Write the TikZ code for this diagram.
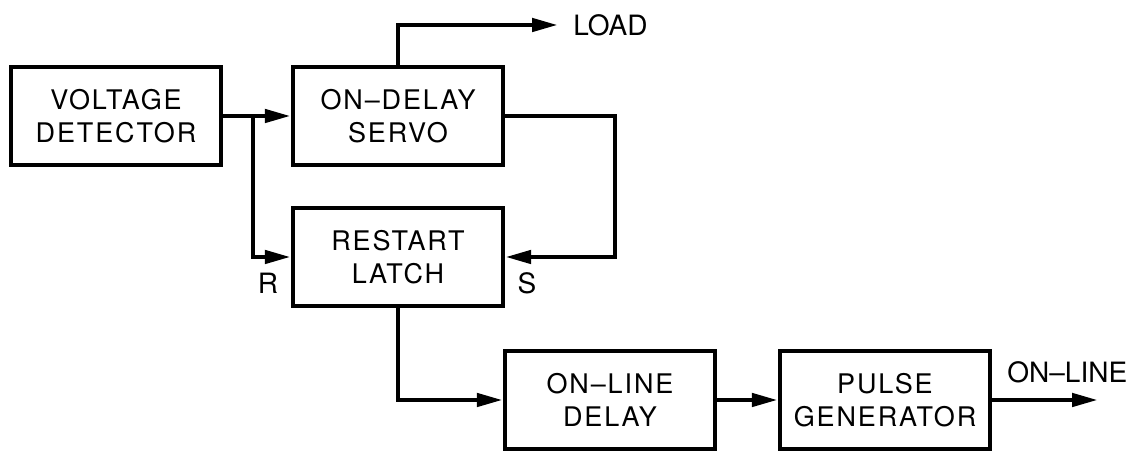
\documentclass[tikz,border=0pt]{standalone}
\usepackage{fontspec}
\setmainfont{TeX Gyre Heros}
\usetikzlibrary{arrows.meta,positioning}

\begin{document}
\begin{tikzpicture}[x=0.5pt,y=-0.5pt,
  font=\fontsize{14pt}{16.5pt}\selectfont,
  block/.style={draw,line width=2.2pt,minimum width=105pt,minimum height=49pt,align=center,inner sep=0pt,
    font=\fontsize{13.5pt}{16.5pt}\selectfont\addfontfeatures{LetterSpace=7}},
  lbl/.style={inner sep=0pt},
  wire/.style={line width=2.3pt,line join=miter},
  arr/.style={wire,-{Triangle[length=13pt,width=6.5pt]}}]
\useasboundingbox (0,0) rectangle (1132,453);
\node[block] (vd) at (116,116) {VOLTAGE\\DETECTOR};
\node[block] (ods) at (398,116) {ON--DELAY\\SERVO};
\node[block] (rl) at (398,257) {RESTART\\LATCH};
\node[block] (old) at (610,400) {ON--LINE\\DELAY};
\node[block] (pg) at (885,400) {PULSE\\GENERATOR};
\node[lbl,anchor=west] (load) at (573,25) {LOAD};
\node[lbl,anchor=west] (online) at (1007,372) {ON--LINE};
\node[lbl] (rlab) at (268,283) {R};
\node[lbl] (slab) at (527,283) {S};
\coordinate (j) at (253,116);
\coordinate (sr) at (615,257);
\coordinate (out) at (1098,400);
\draw[arr] (vd.east) -- (ods.west);
\draw[arr] (j) |- (rl.west);
\draw[arr] (ods.north) |- ([xshift=-7.5pt]load.west);
\draw[arr] (ods.east) -| (sr) -- (rl.east);
\draw[arr] (rl.south) |- (old.west);
\draw[arr] (old.east) -- (pg.west);
\draw[arr] (pg.east) -- (out);
\end{tikzpicture}
\end{document}
